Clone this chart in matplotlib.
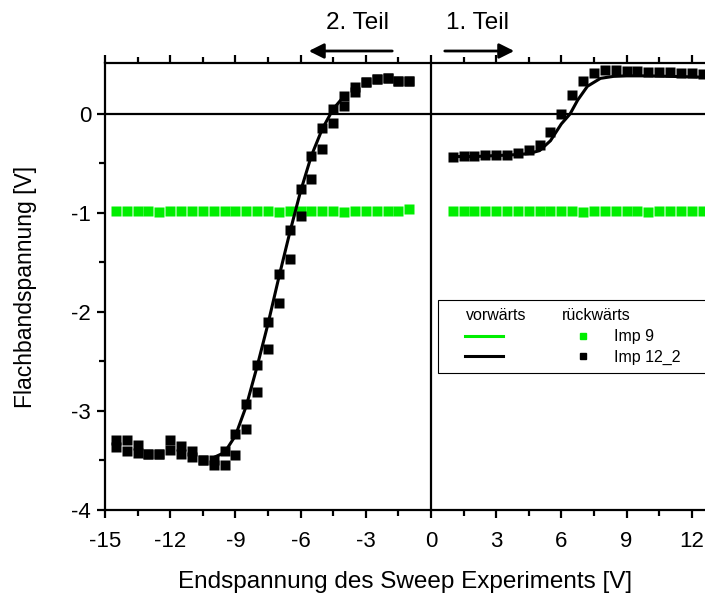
import matplotlib
matplotlib.use("Agg")
import matplotlib.pyplot as plt
from matplotlib.lines import Line2D
from matplotlib.patches import Rectangle, FancyArrowPatch

plt.rcParams['font.family'] = ['Liberation Sans', 'DejaVu Sans']
plt.rcParams['axes.unicode_minus'] = False

# ---- data ----
x_left = [-14.5, -14, -13.5, -13, -12.5, -12, -11.5, -11, -10.5, -10, -9.5, -9, -8.5, -8,
          -7.5, -7, -6.5, -6, -5.5, -5, -4.5, -4, -3.5, -3, -2.5, -2, -1.5, -1]
imp12_left_a = [-3.29, -3.29, -3.34, -3.43, -3.43, -3.29, -3.35, -3.40, -3.49, -3.49, -3.40, -3.23,
                -2.93, -2.54, -2.10, -1.62, -1.17, -0.76, -0.42, -0.14, 0.05, 0.18, 0.27, 0.32,
                0.35, 0.36, 0.33, 0.33]
imp12_left_b = [-3.36, -3.40, -3.42, -3.43, -3.43, -3.39, -3.43, -3.46, -3.49, -3.55, -3.55, -3.44,
                -3.18, -2.81, -2.37, -1.91, -1.46, -1.03, -0.66, -0.35, -0.09, 0.08, 0.22, 0.32,
                0.35, 0.36, 0.33, 0.33]
imp9_left = [-0.98, -0.98, -0.98, -0.98, -0.99, -0.98, -0.98, -0.98, -0.98, -0.98, -0.98, -0.98,
             -0.98, -0.98, -0.98, -0.99, -0.98, -0.98, -0.98, -0.98, -0.98, -0.99, -0.98, -0.98,
             -0.98, -0.98, -0.98, -0.96]

x_right = [1, 1.5, 2, 2.5, 3, 3.5, 4, 4.5, 5, 5.5, 6, 6.5, 7, 7.5, 8, 8.5, 9, 9.5, 10,
           10.5, 11, 11.5, 12, 12.5]
imp12_right = [-0.43, -0.42, -0.42, -0.41, -0.41, -0.41, -0.39, -0.36, -0.31, -0.18, 0.0, 0.19,
               0.33, 0.41, 0.44, 0.44, 0.43, 0.43, 0.42, 0.42, 0.42, 0.41, 0.41, 0.40]
imp9_right = [-0.98, -0.98, -0.98, -0.98, -0.98, -0.98, -0.98, -0.98, -0.98, -0.98, -0.98, -0.98,
              -0.99, -0.98, -0.98, -0.98, -0.98, -0.98, -0.99, -0.98, -0.98, -0.98, -0.98, -0.98]

# forward sweep (line) for Imp 12_2
xf_left = [-10, -9.5, -9, -8.5, -8, -7.5, -7, -6.5, -6, -5.5, -5, -4.5, -4.0]
yf_left = [-3.47, -3.42, -3.25, -2.95, -2.55, -2.12, -1.65, -1.20, -0.78, -0.42, -0.15, 0.05, 0.18]
xf_right = [1, 2, 3, 4, 4.5, 5, 5.5, 6, 6.4, 6.75, 7.2, 7.8, 8.4, 9, 10, 11, 12, 12.7]
yf_right = [-0.43, -0.43, -0.42, -0.41, -0.40, -0.37, -0.27, -0.10, 0.0, 0.14, 0.28, 0.36, 0.38,
            0.385, 0.385, 0.38, 0.375, 0.37]

x_major = [-15, -12, -9, -6, -3, 0, 3, 6, 9, 12]
x_minor = [-13.5, -10.5, -7.5, -4.5, -1.5, 1.5, 4.5, 7.5, 10.5]
y_major = [-4, -3, -2, -1, 0]
y_minor = [-3.5, -2.5, -1.5, -0.5]

green = '#00ee00'

fig = plt.figure(figsize=(7.05, 5.94), dpi=100)
ax = fig.add_axes([105/705, 1-510/594, 1-105/705, (510-63)/594])
ax.set_xlim(-15, 12.61)
ax.set_ylim(-4, 0.515)

ax.axhline(0, color='black', lw=1.6, zorder=1)
ax.axvline(0, color='black', lw=1.6, zorder=1)

ms = 7
ax.plot(x_left, imp9_left, 's', color=green, ms=ms, mec='none', zorder=3)
ax.plot(x_right, imp9_right, 's', color=green, ms=ms, mec='none', zorder=3)
ax.plot(x_left, imp12_left_b, 's', color='black', ms=ms, mec='none', zorder=3)
ax.plot(x_left, imp12_left_a, 's', color='black', ms=ms, mec='none', zorder=3)
ax.plot(x_right, imp12_right, 's', color='black', ms=ms, mec='none', zorder=3)
ax.plot(xf_left, yf_left, '-', color='black', lw=2.2, zorder=4)
ax.plot(xf_right, yf_right, '-', color='black', lw=2.2, zorder=4)

for s in ['left', 'bottom', 'top']:
    ax.spines[s].set_linewidth(1.6)
ax.spines['right'].set_visible(False)

ax.set_xticks(x_major)
ax.set_xticks(x_minor, minor=True)
ax.set_yticks(y_major)
ax.set_yticks(y_minor, minor=True)
ax.tick_params(axis='both', which='major', direction='out', length=6, width=1.6, labelsize=16)
ax.tick_params(axis='both', which='minor', direction='out', length=4, width=1.6)
ax.tick_params(axis='x', which='major', pad=9)
ax.tick_params(axis='y', which='major', pad=4)
ax.tick_params(axis='x', top=True, which='both')

ax.set_xlabel('Endspannung des Sweep Experiments [V]', fontsize=17.5, labelpad=14)
ax.set_ylabel('Flachbandspannung [V]', fontsize=16.5, labelpad=25)

# annotations above the plot
fig.text(358/705, 1-23/594, '2. Teil', ha='center', va='center', fontsize=17.5)
fig.text(477/705, 1-23/594, '1. Teil', ha='center', va='center', fontsize=17.5)
fig.add_artist(FancyArrowPatch((395/705, 1-51/594), (306/705, 1-51/594),
               transform=fig.transFigure, arrowstyle='-|>,head_length=6,head_width=3',
               mutation_scale=1.5, lw=2, color='black'))
fig.add_artist(FancyArrowPatch((442/705, 1-51/594), (517/705, 1-51/594),
               transform=fig.transFigure, arrowstyle='-|>,head_length=6,head_width=3',
               mutation_scale=1.5, lw=2, color='black'))

# custom legend box
T = fig.transFigure
def fx(p): return p/705
def fy(p): return 1 - p/594
fig.add_artist(Rectangle((fx(438), fy(373)), fx(720)-fx(438), fy(300)-fy(373), transform=T,
                         fill=True, facecolor='white', edgecolor='black', lw=0.8, zorder=10))
fig.text(fx(466), fy(316), 'vorwärts', fontsize=11.5, va='center', ha='left', zorder=11)
fig.text(fx(562), fy(316), 'rückwärts', fontsize=11.5, va='center', ha='left', zorder=11)
fig.add_artist(Line2D([fx(465), fx(503)], [fy(336), fy(336)], transform=T, color=green, lw=2.2, zorder=11))
fig.add_artist(Line2D([fx(465), fx(503)], [fy(356), fy(356)], transform=T, color='black', lw=2.2, zorder=11))
fig.add_artist(Line2D([fx(583)], [fy(336)], transform=T, marker='s', color=green, ms=5, ls='none', zorder=11))
fig.add_artist(Line2D([fx(583)], [fy(356)], transform=T, marker='s', color='black', ms=5, ls='none', zorder=11))
fig.text(fx(614), fy(337), 'Imp 9', fontsize=11.5, va='center', ha='left', zorder=11)
fig.text(fx(614), fy(357), 'Imp 12_2', fontsize=11.5, va='center', ha='left', zorder=11)

fig.savefig('out.png', dpi=100)
